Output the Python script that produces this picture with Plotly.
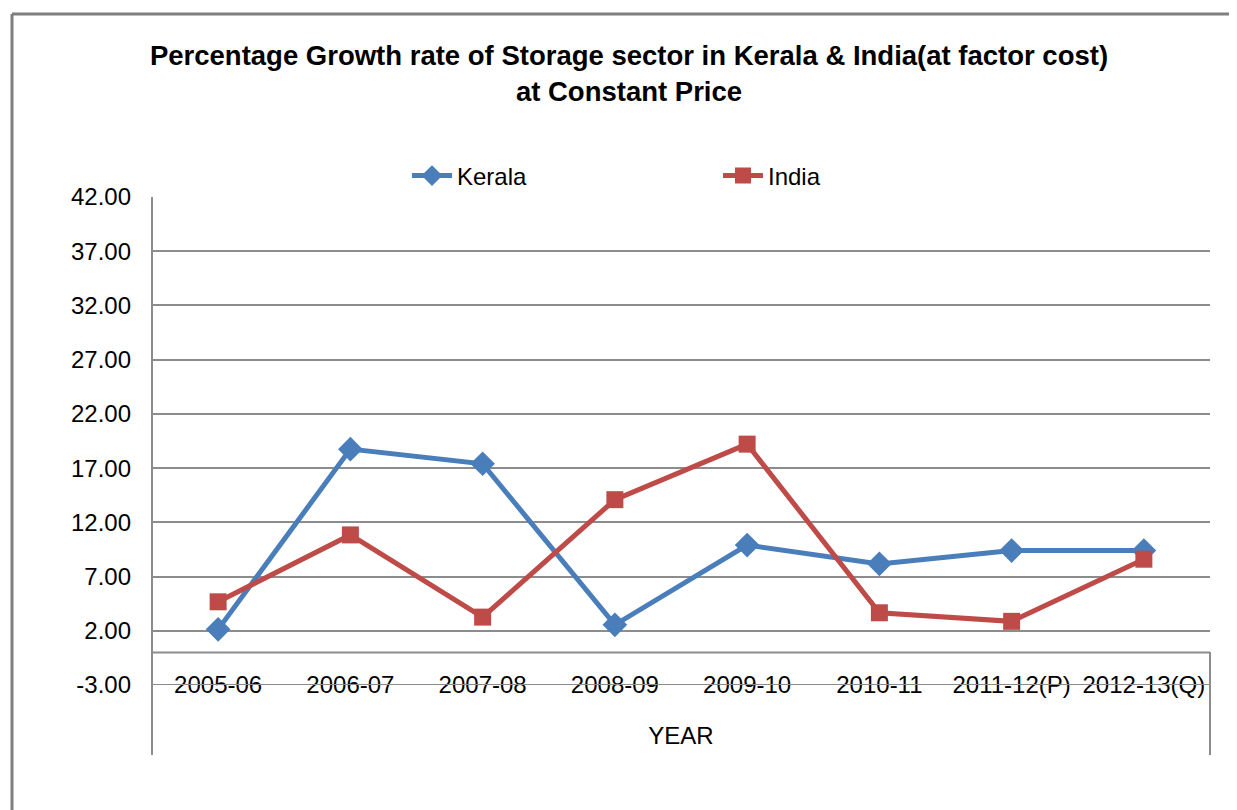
import plotly.graph_objects as go

years = ["2005-06", "2006-07", "2007-08", "2008-09", "2009-10", "2010-11", "2011-12(P)", "2012-13(Q)"]
kerala = [2.13, 18.75, 17.40, 2.55, 9.90, 8.17, 9.40, 9.40]
india = [4.67, 10.84, 3.26, 14.09, 19.21, 3.66, 2.87, 8.60]
y_ticks = [-3, 2, 7, 12, 17, 22, 27, 32, 37, 42]

FONT = "Liberation Sans, Arial, sans-serif"
BLUE = "#4A7EBB"
RED = "#BE4B48"
GRID = "#8C8C8C"

OFF = 8  # page body margin
PW, PH = 1237, 810
W, H = PW - OFF, PH - OFF
L, R, T, B = 152, 1210, 197, 685  # plot area in page pixels

def py(v):
    return (B - v) / (B - T)

def px(v):
    return (v - L) / (R - L)

fig = go.Figure()
fig.add_trace(go.Scatter(
    x=years, y=kerala, name="Kerala", mode="lines+markers",
    line=dict(color=BLUE, width=5),
    marker=dict(symbol="diamond", size=19, color=BLUE),
    legend="legend"))
fig.add_trace(go.Scatter(
    x=years, y=india, name="India", mode="lines+markers",
    line=dict(color=RED, width=5),
    marker=dict(symbol="square", size=17, color=RED),
    legend="legend2"))

fig.update_layout(
    width=W, height=H,
    margin=dict(l=L - OFF, r=W - (R - OFF), t=T - OFF, b=H - (B - OFF)),
    paper_bgcolor="white", plot_bgcolor="white",
    font=dict(family=FONT, size=24, color="black"),
    title=dict(
        text="<b>Percentage Growth rate of Storage sector in Kerala & India(at factor cost)<br>at Constant Price</b>",
        x=(629 - OFF) / W, xanchor="center", xref="container",
        y=1 - 57 / H, yanchor="middle", yref="container",
        font=dict(family=FONT, size=27.5, color="black")),
    legend=dict(orientation="h", x=px(407), xanchor="left",
                y=py(176), yanchor="middle", font=dict(size=24),
                bgcolor="rgba(0,0,0,0)", itemwidth=40),
    legend2=dict(orientation="h", x=px(718), xanchor="left",
                 y=py(176), yanchor="middle", font=dict(size=24),
                 bgcolor="rgba(0,0,0,0)", itemwidth=40),
    xaxis=dict(
        type="category", range=[-0.5, 7.5],
        showgrid=False, zeroline=False, showline=False,
        ticks="", ticklabelstandoff=-17,
        tickfont=dict(size=24),
        title=dict(text="YEAR", font=dict(size=24), standoff=30)),
    yaxis=dict(
        range=[-3, 42], tickvals=y_ticks,
        ticktext=[f"{v:.2f}" for v in y_ticks],
        showgrid=True, gridcolor=GRID, gridwidth=2,
        zeroline=False, showline=False, ticks="",
        ticklabelstandoff=20, tickfont=dict(size=24)),
    showlegend=True,
)

shapes = []
# left axis line from top of plot down to bottom of label box
shapes.append(dict(type="line", xref="paper", yref="paper", x0=0, x1=0,
                   y0=py(755), y1=1, line=dict(color=GRID, width=2)))
# right vertical of label box
shapes.append(dict(type="line", xref="paper", yref="paper", x0=1, x1=1,
                   y0=py(755), y1=py(652), line=dict(color=GRID, width=2)))
# horizontal axis line at zero
shapes.append(dict(type="line", xref="paper", yref="y", x0=0, x1=1,
                   y0=0, y1=0, line=dict(color=GRID, width=2)))
# bottom gridline (-3.00) running through the category labels
shapes.append(dict(type="line", xref="paper", yref="y", x0=0, x1=1,
                   y0=-3, y1=-3, line=dict(color=GRID, width=2)))
# outer chart border
shapes.append(dict(type="line", xref="paper", yref="paper",
                   x0=px(12), x1=px(1245), y0=py(14), y1=py(14),
                   line=dict(color="#7F7F7F", width=3)))
shapes.append(dict(type="line", xref="paper", yref="paper",
                   x0=px(12), x1=px(12), y0=py(14), y1=py(820),
                   line=dict(color="#7F7F7F", width=3)))
fig.update_layout(shapes=shapes)

fig.write_html("out.html")
